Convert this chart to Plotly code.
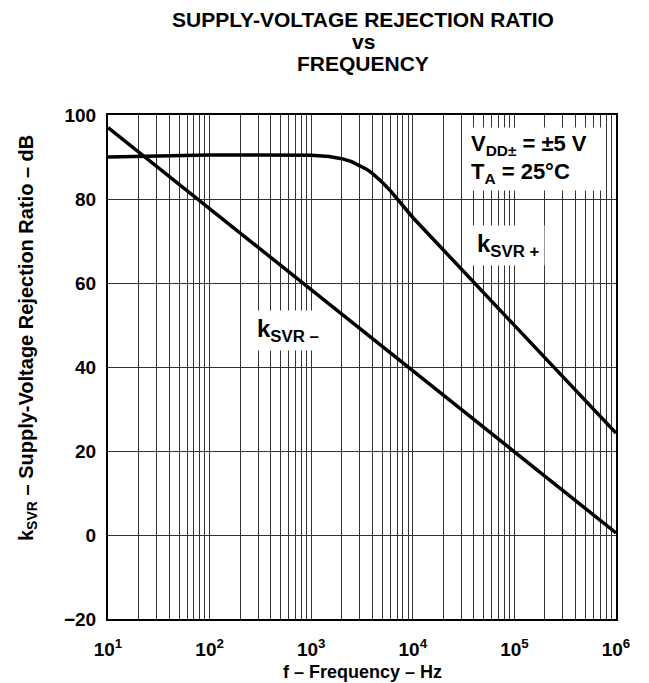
import plotly.graph_objects as go

# ---- data ----
ksvr_minus_freq = [10, 100, 1000, 10000, 100000, 1000000]
ksvr_minus_db = [97.0, 77.7, 58.4, 39.1, 19.8, 0.5]

ksvr_plus_freq = [10, 20, 50, 100, 300, 1000, 1500, 2000, 2500, 3000, 3500, 4000, 4500,
                  5000, 6000, 7000, 8000, 10000, 100000, 1000000]
ksvr_plus_db = [90.0, 90.2, 90.4, 90.5, 90.5, 90.4, 90.1, 89.6, 88.9, 88.0, 87.1, 86.1, 85.1,
                84.0, 82.0, 80.0, 78.3, 75.6, 49.9, 24.3]

x_tick_vals = [10, 100, 1000, 10000, 100000, 1000000]
x_tick_text = ["10<sup>1</sup>", "10<sup>2</sup>", "10<sup>3</sup>", "10<sup>4</sup>", "10<sup>5</sup>", "10<sup>6</sup>"]
y_tick_vals = [-20, 0, 20, 40, 60, 80, 100]
y_tick_text = ["\u221220", "0", "20", "40", "60", "80", "100"]
minor_x_vals = [k * 10 ** d for d in range(1, 6) for k in range(2, 10)]

title_lines = ["SUPPLY-VOLTAGE REJECTION RATIO", "vs", "FREQUENCY"]

FONT = "Liberation Sans, Arial, sans-serif"
L, R, T, B = 108, 33, 115, 64
W, H = 649, 683
PW, PH = W - L - R, H - T - B


def px_x(x):
    return (x - L) / PW


def px_y(y):
    return (H - B - y) / PH


fig = go.Figure()
fig.add_trace(go.Scatter(x=ksvr_plus_freq, y=ksvr_plus_db, mode="lines",
                         line=dict(color="black", width=3.5),
                         showlegend=False, hoverinfo="skip"))
fig.add_trace(go.Scatter(x=ksvr_minus_freq, y=ksvr_minus_db, mode="lines",
                         line=dict(color="black", width=3.5),
                         showlegend=False, hoverinfo="skip"))

fig.update_xaxes(type="log", range=[1, 6], tickvals=x_tick_vals, ticktext=x_tick_text,
                 showgrid=True, gridcolor="#333", gridwidth=1,
                 minor=dict(tickvals=minor_x_vals, showgrid=True, gridcolor="#333", gridwidth=1, ticks=""),
                 showline=True, linecolor="black", linewidth=2, mirror=True, ticks="",
                 tickfont=dict(family=FONT, size=19, color="black", weight="bold"),
                 ticklabelstandoff=12, zeroline=False)
fig.update_yaxes(range=[-20, 100], tickvals=y_tick_vals, ticktext=y_tick_text,
                 showgrid=True, gridcolor="#333", gridwidth=1,
                 showline=True, linecolor="black", linewidth=2, mirror=True, ticks="",
                 tickfont=dict(family=FONT, size=19, color="black", weight="bold"),
                 ticklabelstandoff=6, zeroline=False)

bold = dict(family=FONT, color="black", weight="bold")

annotations = []
for text, yc in zip(title_lines, [19, 41.5, 64]):
    annotations.append(dict(text=text, xref="paper", yref="paper", x=px_x(363), y=px_y(yc),
                            xanchor="center", yanchor="middle", showarrow=False,
                            font=dict(size=21, **bold)))

annotations += [
    # x title
    dict(text="f \u2013 Frequency \u2013 Hz", xref="paper", yref="paper",
         x=0.5, y=px_y(672), xanchor="center", yanchor="middle", showarrow=False,
         font=dict(size=18, **bold)),
    # y title
    dict(text="k<sub>SVR</sub> \u2013 Supply-Voltage Rejection Ratio \u2013 dB", xref="paper", yref="paper",
         x=px_x(27), y=px_y(338), xanchor="center", yanchor="middle", showarrow=False,
         textangle=-90, font=dict(size=20, **bold)),
    # condition box
    dict(text="V<sub>DD\u00b1</sub> = \u00b15 V<br>T<sub>A</sub> = 25\u00b0C", xref="paper", yref="paper",
         x=px_x(535), y=px_y(159), xanchor="center", yanchor="middle", showarrow=False,
         align="left", width=128, height=52, borderpad=5, bgcolor="white", font=dict(size=22, **bold)),
    # kSVR+ label
    dict(text="k<sub>SVR +</sub>", xref="paper", yref="paper",
         x=px_x(508), y=px_y(245), xanchor="center", yanchor="middle", showarrow=False,
         bgcolor="white", borderpad=4, font=dict(size=24, **bold)),
    # kSVR- label
    dict(text="k<sub>SVR \u2013</sub>", xref="paper", yref="paper",
         x=px_x(288), y=px_y(330), xanchor="center", yanchor="middle", showarrow=False,
         bgcolor="white", borderpad=4, font=dict(size=24, **bold)),
]

fig.update_layout(width=W, height=H, margin=dict(l=L, r=R, t=T, b=B),
                  paper_bgcolor="white", plot_bgcolor="white",
                  annotations=annotations, showlegend=False)

fig.write_html("out.html", config={"displayModeBar": False},
               post_script="document.body.style.margin='0';")
